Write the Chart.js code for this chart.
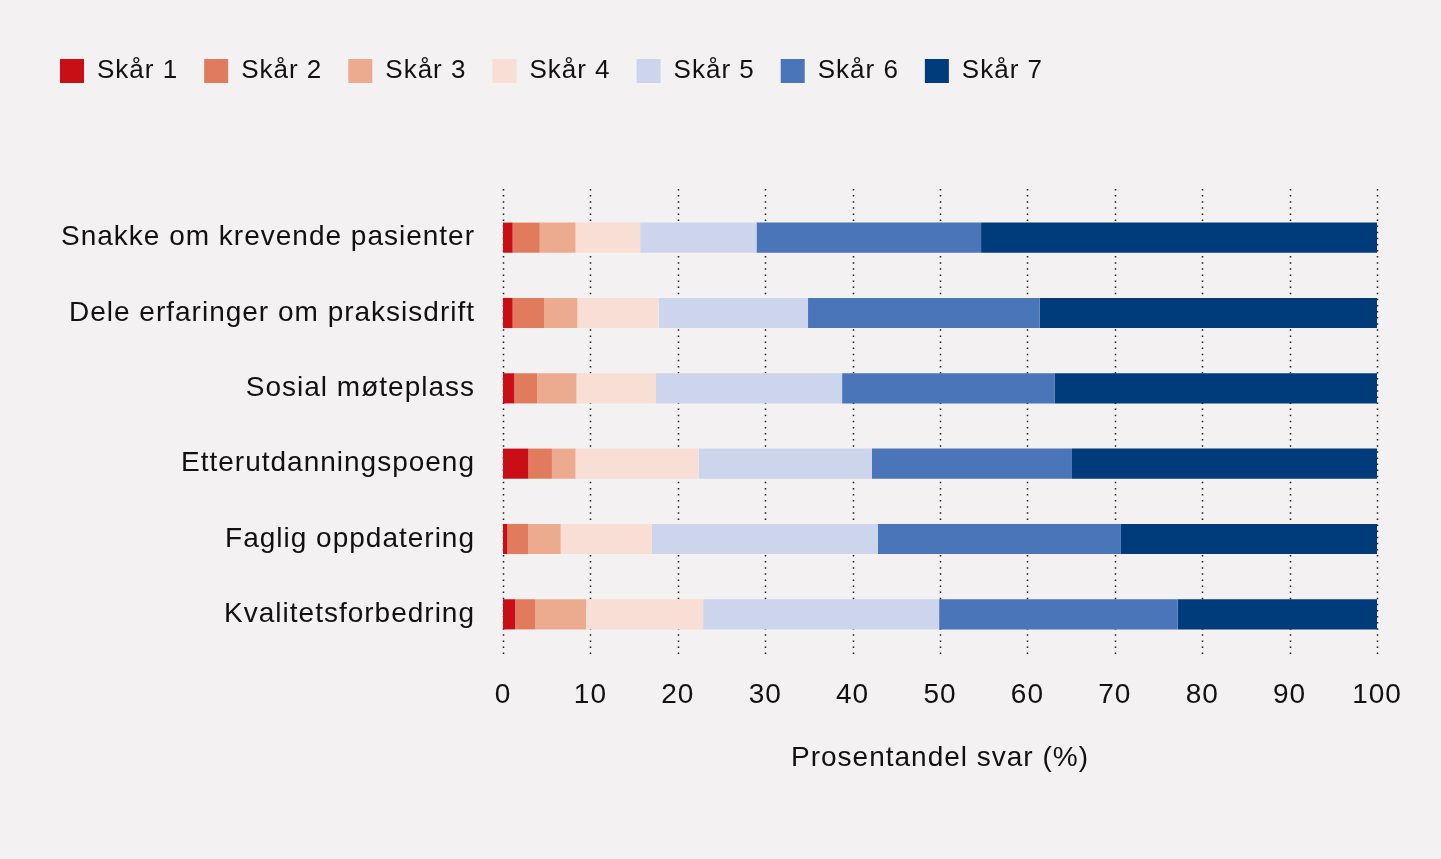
<!DOCTYPE html>
<html>
<head>
<meta charset="utf-8">
<script src="https://cdn.jsdelivr.net/npm/chart.js@4.4.1/dist/chart.umd.min.js"></script>
<style>
	html, body { margin: 0; padding: 0; background: #f3f1f2; }
	canvas { display: block; }
</style>
</head>
<body>
<canvas id="scores" width="1441" height="859"></canvas>
<script>
var categories = [
	"Snakke om krevende pasienter",
	"Dele erfaringer om praksisdrift",
	"Sosial møteplass",
	"Etterutdanningspoeng",
	"Faglig oppdatering",
	"Kvalitetsforbedring"
];
var seriesNames = ["Skår 1", "Skår 2", "Skår 3", "Skår 4", "Skår 5", "Skår 6", "Skår 7"];
var score1 = [1.1, 1.1, 1.3, 2.9, 0.5, 1.4];
var score2 = [3.1, 3.6, 2.6, 2.7, 2.4, 2.3];
var score3 = [4.1, 3.8, 4.5, 2.7, 3.7, 5.8];
var score4 = [7.4, 9.3, 9.1, 14.1, 10.4, 13.4];
var score5 = [13.3, 17.1, 21.3, 19.8, 25.9, 27.0];
var score6 = [25.7, 26.5, 24.3, 22.9, 27.8, 27.3];
var score7 = [45.3, 38.6, 36.9, 34.9, 29.3, 22.8];
var axisTitle = "Prosentandel svar (%)";

var colors = ["#c90f15", "#e07b5e", "#ecaa8f", "#f8ded5", "#cdd5ed", "#4a75b9", "#003b7b"];
var values = [score1, score2, score3, score4, score5, score6, score7];

Chart.defaults.font.family = "'Liberation Sans', Arial, sans-serif";
Chart.defaults.color = "#111";

// letter spacing for all canvas text (the original type is spaced out)
var spacing = {
	id: 'spacing',
	beforeLayout: function(chart) { chart.ctx.letterSpacing = '1px'; },
	beforeDraw: function(chart) { chart.ctx.letterSpacing = '1px'; }
};

// dotted vertical grid, a bit taller than the bar area
var dottedGrid = {
	id: 'dottedGrid',
	beforeDatasetsDraw: function(chart) {
		var ctx = chart.ctx, area = chart.chartArea, x = chart.scales.x;
		ctx.save();
		ctx.strokeStyle = "#1a1a1a";
		ctx.lineWidth = 1.5;
		ctx.setLineDash([1.5, 4.6]);
		x.ticks.forEach(function(t) {
			var px = Math.round(x.getPixelForValue(t.value)) + 0.5;
			ctx.beginPath();
			ctx.moveTo(px, area.top - 11);
			ctx.lineTo(px, area.bottom + 3);
			ctx.stroke();
		});
		ctx.restore();
	}
};

var config = {
	type: 'bar',
	data: {
		labels: categories,
		datasets: seriesNames.map(function(name, i) {
			return {
				label: name,
				data: values[i],
				backgroundColor: colors[i],
				borderWidth: 0,
				categoryPercentage: 1,
				barPercentage: 0.4
			};
		})
	},
	options: {
		indexAxis: 'y',
		responsive: false,
		animation: false,
		layout: { padding: { left: 34, right: 64, top: 32, bottom: 0 } },
		scales: {
			x: {
				stacked: true,
				min: 0,
				max: 100,
				ticks: { stepSize: 10, padding: 26, font: { size: 28 }, color: "#111" },
				grid: { display: false, drawTicks: false },
				border: { display: false },
				title: { display: true, text: axisTitle, font: { size: 28 }, color: "#111", padding: { top: 0, bottom: 84 } },
				afterFit: function(scale) { scale.height = 207; }
			},
			y: {
				stacked: true,
				ticks: { padding: 28, font: { size: 28 }, color: "#111" },
				grid: { display: false, drawTicks: false },
				border: { display: false },
				afterFit: function(scale) { scale.width = 469; }
			}
		},
		plugins: {
			legend: {
				position: 'top',
				align: 'start',
				labels: { boxWidth: 24, boxHeight: 24, padding: 26, font: { size: 26 }, color: "#111" }
			},
			// empty title used as a spacer between legend and bars
			title: { display: true, text: '', weight: 500, font: { size: 10 }, padding: { top: 0, bottom: 94 } },
			tooltip: { enabled: false }
		}
	},
	plugins: [spacing, dottedGrid]
};

var ctx = document.getElementById("scores").getContext("2d");
window.scoreChart = new Chart(ctx, config);
</script>
</body>
</html>
